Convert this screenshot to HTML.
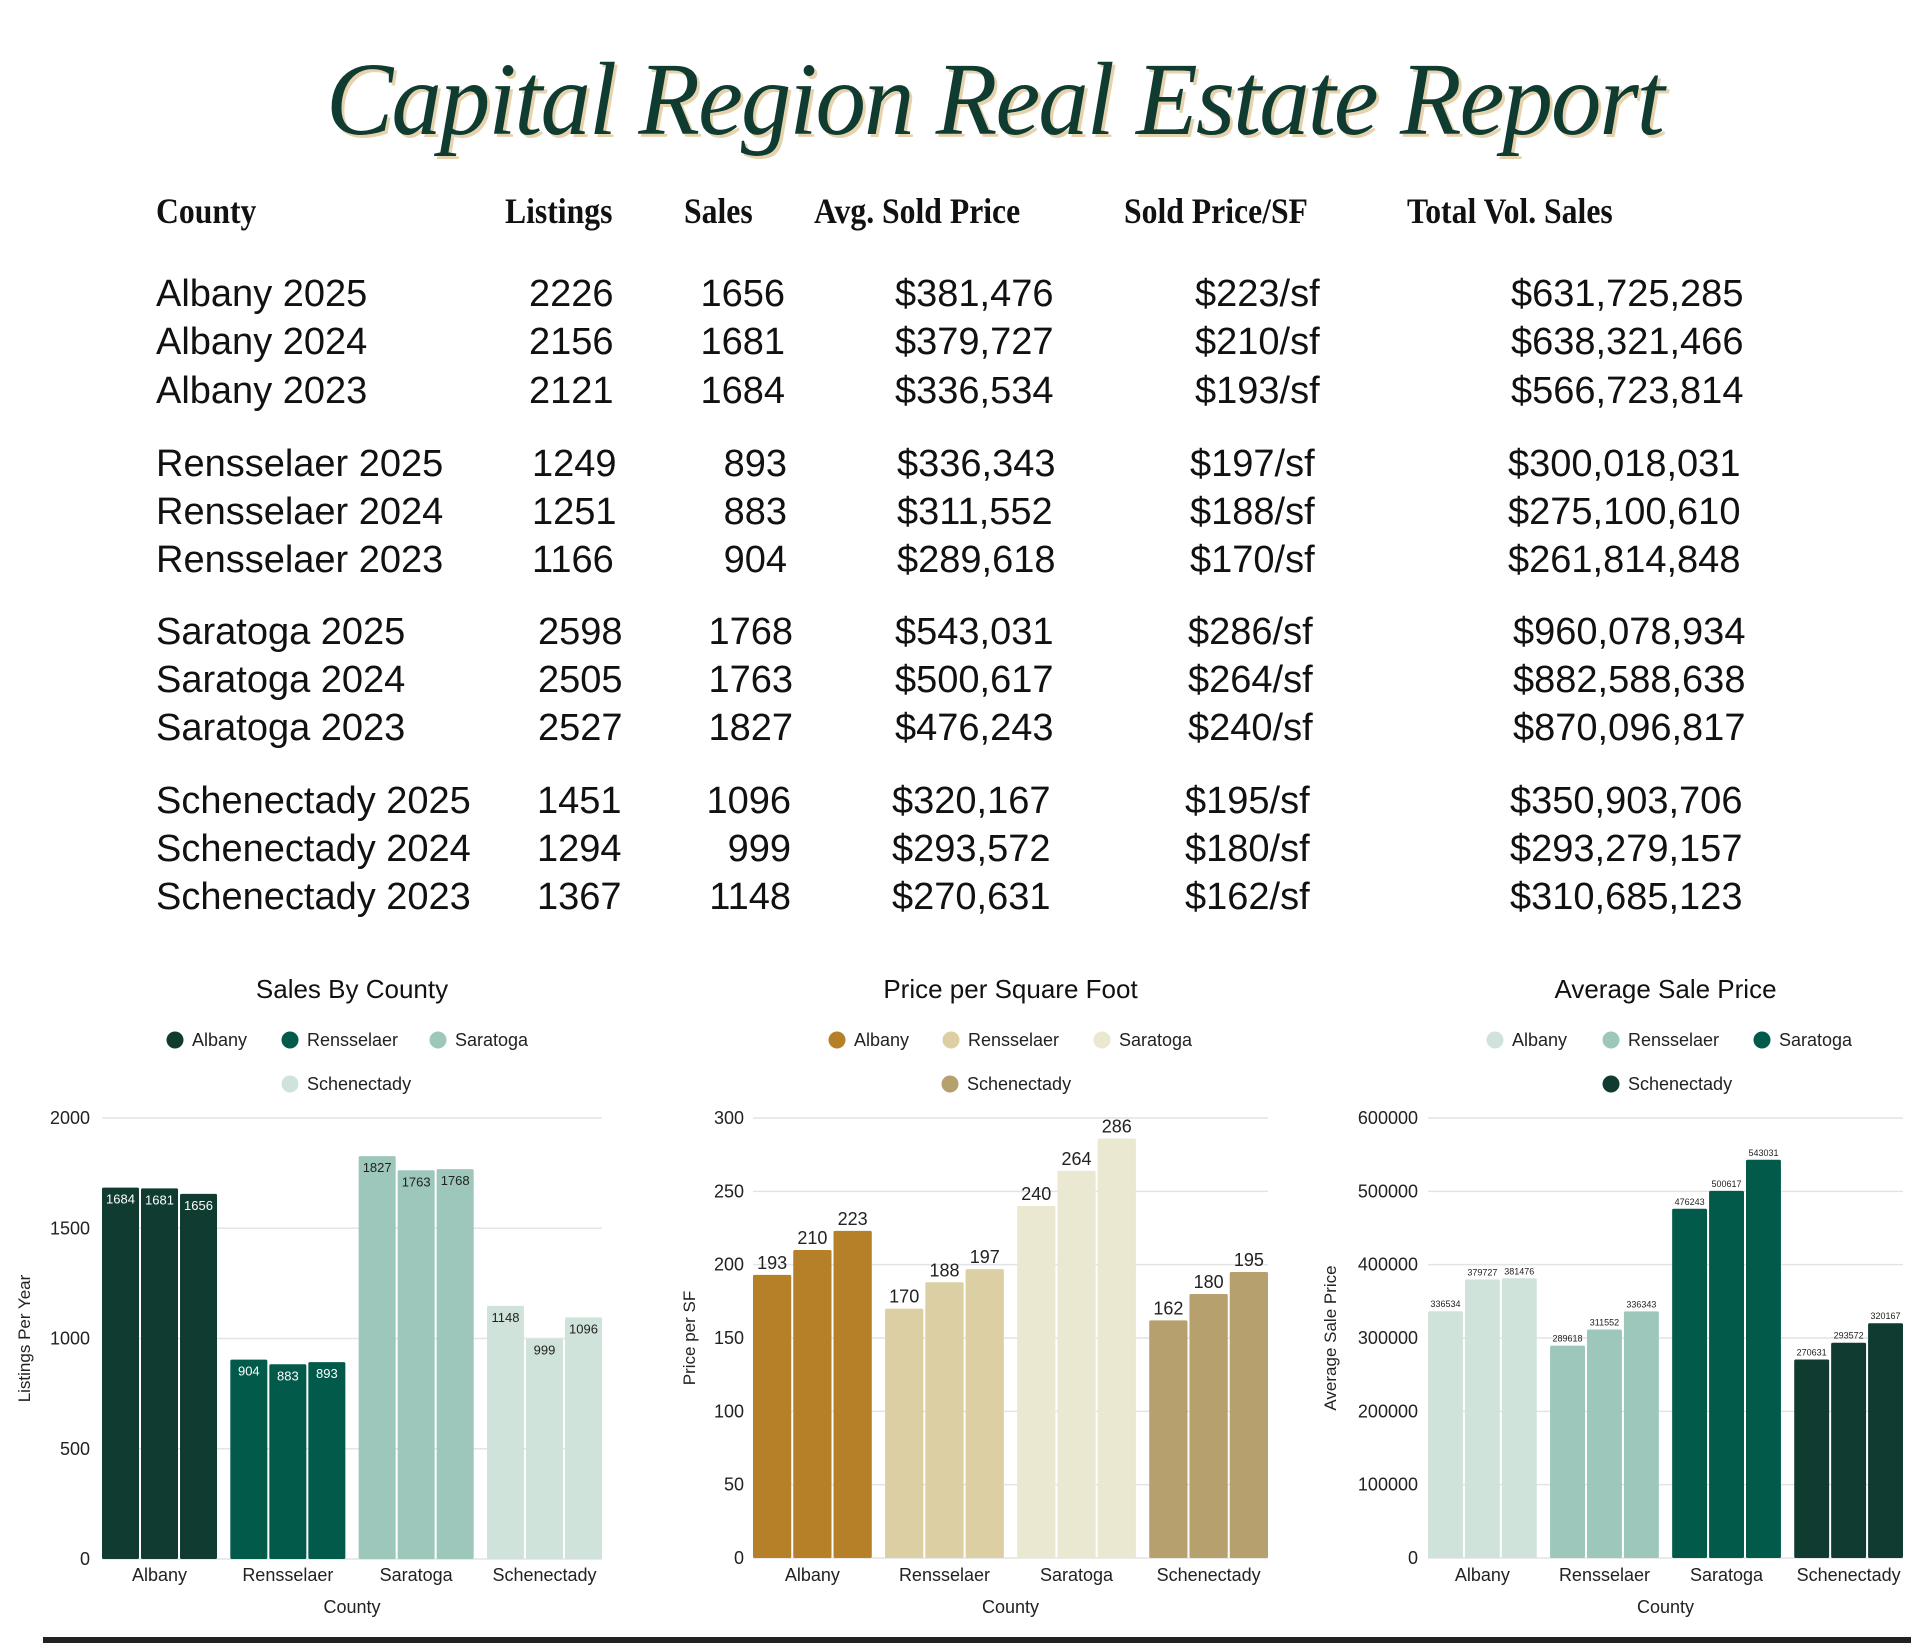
<!DOCTYPE html>
<html><head><meta charset="utf-8">
<style>
html,body{margin:0;padding:0;background:#fff;}
body{width:1920px;height:1643px;position:relative;overflow:hidden;font-family:"Liberation Sans",sans-serif;color:#111;}
.hd{position:absolute;font-family:"Liberation Serif",serif;font-weight:bold;font-size:36px;top:190px;transform:scaleX(0.88);transform-origin:left;white-space:nowrap;}
.row{position:absolute;font-size:38px;white-space:nowrap;}
#title{position:absolute;left:326px;top:40px;white-space:nowrap;font-family:"Liberation Serif",serif;font-style:italic;font-size:104px;color:#0f3b30;text-shadow:3px 3px 0 #e6d3ae;letter-spacing:-2px;transform:scaleX(0.97);transform-origin:left;}
</style></head>
<body>
<div id="title">Capital Region Real Estate Report</div>
<div class="hd" style="left:156px">County</div>
<div class="hd" style="left:505px">Listings</div>
<div class="hd" style="left:684px">Sales</div>
<div class="hd" style="left:814px">Avg. Sold Price</div>
<div class="hd" style="left:1124px">Sold Price/SF</div>
<div class="hd" style="left:1407px">Total Vol. Sales</div>
<div id="table"></div>
<svg id="charts" width="1920" height="1643" style="position:absolute;left:0;top:0"></svg>
<div style="position:absolute;left:43px;top:1637px;width:1868px;height:6px;background:#222"></div>
<script>
const rowsData = [
 ["Albany 2025","2226","1656","$381,476","$223/sf","$631,725,285"],
 ["Albany 2024","2156","1681","$379,727","$210/sf","$638,321,466"],
 ["Albany 2023","2121","1684","$336,534","$193/sf","$566,723,814"],
 ["Rensselaer 2025","1249","893","$336,343","$197/sf","$300,018,031"],
 ["Rensselaer 2024","1251","883","$311,552","$188/sf","$275,100,610"],
 ["Rensselaer 2023","1166","904","$289,618","$170/sf","$261,814,848"],
 ["Saratoga 2025","2598","1768","$543,031","$286/sf","$960,078,934"],
 ["Saratoga 2024","2505","1763","$500,617","$264/sf","$882,588,638"],
 ["Saratoga 2023","2527","1827","$476,243","$240/sf","$870,096,817"],
 ["Schenectady 2025","1451","1096","$320,167","$195/sf","$350,903,706"],
 ["Schenectady 2024","1294","999","$293,572","$180/sf","$293,279,157"],
 ["Schenectady 2023","1367","1148","$270,631","$162/sf","$310,685,123"]
];
const rowTops=[273,321,370,443,491,539,611,659,707,780,828,876];
const blockX=[[529,785,895,1195,1511],[532,787,897,1190,1508],[538,793,895,1188,1513],[537,791,892,1185,1510]];
const tbl=document.getElementById('table');
rowsData.forEach((r,i)=>{
  const b=blockX[Math.floor(i/3)];
  const xs=[156,b[0],null,b[2],b[3],b[4]];
  r.forEach((v,j)=>{
    const d=document.createElement('div');
    d.className='row';
    d.textContent=v;
    d.style.top=rowTops[i]+'px';
    if(j===2){d.style.left=(b[1]-90)+'px';d.style.width='90px';d.style.textAlign='right';}
    else d.style.left=xs[j]+'px';
    
    
    tbl.appendChild(d);
  });
});

const categories=["Albany","Rensselaer","Saratoga","Schenectady"];
const salesValues=[[1684,1681,1656],[904,883,893],[1827,1763,1768],[1148,999,1096]];
const sfValues=[[193,210,223],[170,188,197],[240,264,286],[162,180,195]];
const priceValues=[[336534,379727,381476],[289618,311552,336343],[476243,500617,543031],[270631,293572,320167]];
const salesTicks=[0,500,1000,1500,2000];
const sfTicks=[0,50,100,150,200,250,300];
const priceTicks=[0,100000,200000,300000,400000,500000,600000];

const NS='http://www.w3.org/2000/svg';
const svg=document.getElementById('charts');
function mk(tag,attrs,parent,txt){const e=document.createElementNS(NS,tag);for(const k in attrs)e.setAttribute(k,attrs[k]);if(txt!==undefined)e.textContent=txt;(parent||svg).appendChild(e);return e;}

function chart(o){
  const g=mk('g',{});
  
  
  const max=o.ticks[o.ticks.length-1];
  const y=v=>o.bottom-(v/max)*(o.bottom-o.top);
  const cx=(o.x0+o.x1)/2;
  const t=mk('text',{x:cx,y:998,'font-size':26,'text-anchor':'middle',fill:'#111'},g,o.title);
  
  
  o.legend.forEach((L,i)=>{
    const row=i<3?1040:1084;
    const dx=o.legendX[i];
    const c=mk('circle',{cx:dx,cy:row,r:8.5,fill:o.colors[i]},g);
    
    
    const lt=mk('text',{x:dx+17,y:row+6,'font-size':18,fill:'#222'},g,L);
    
    
  });
  o.ticks.forEach(tv=>{
    const gl=mk('line',{x1:o.x0,x2:o.x1,y1:y(tv),y2:y(tv),stroke:'#e4e4e4','stroke-width':1.5},g);
    
    
    const tl=mk('text',{x:o.tickX,y:y(tv)+6,'font-size':18,'text-anchor':'end',fill:'#222'},g,String(tv));
    
    
  });
  const gap=13.3,gw=(o.x1-o.x0-3*gap)/4,bw=(gw-4)/3;
  categories.forEach((cat,ci)=>{
    const gx=o.x0+ci*(gw+gap);
    o.values[ci].forEach((v,k)=>{
      const bx=gx+k*(bw+2);
      const r=mk('rect',{x:bx,y:y(v),width:bw,height:o.bottom-y(v),fill:o.colors[ci],rx:1.5},g);
      
      
      let ly,col;
      if(o.inside){ly=y(v)+16;col=ci<2?'#fff':'#222';}else{ly=y(v)-o.labGap;col='#222';}
      const vl=mk('text',{x:bx+bw/2,y:ly,'font-size':o.labSize,'text-anchor':'middle',fill:col},g,String(v));
      
      
    });
    const xl=mk('text',{x:gx+gw/2,y:1581,'font-size':18,'text-anchor':'middle',fill:'#222'},g,cat);
    
    
  });
  const xt=mk('text',{x:cx,y:1613,'font-size':18,'text-anchor':'middle',fill:'#222'},g,'County');
  
  
  const ym=(o.top+o.bottom)/2;
  const yt=mk('text',{x:o.yTitleX,y:ym,'font-size':17,'text-anchor':'middle',fill:'#222',transform:`rotate(-90 ${o.yTitleX} ${ym})`},g,o.yTitle);
  
  
}
chart({name:'sales-by-county-chart',title:'Sales By County',x0:102,x1:602,top:1118,bottom:1559,ticks:salesTicks,values:salesValues,
  colors:['#0f3b30','#025a4b','#9dc7bb','#d0e3db'],legend:categories,legendX:[175,290,438,290],tickX:90,yTitle:'Listings Per Year',yTitleX:30,inside:true,labSize:13});
chart({name:'price-per-sf-chart',title:'Price per Square Foot',x0:753,x1:1268,top:1118,bottom:1558,ticks:sfTicks,values:sfValues,
  colors:['#b58027','#dccfa4','#ebe8d1','#b5a06e'],legend:categories,legendX:[837,951,1102,950],tickX:744,yTitle:'Price per SF',yTitleX:695,inside:false,labSize:18,labGap:6});
chart({name:'average-sale-price-chart',title:'Average Sale Price',x0:1428,x1:1903,top:1118,bottom:1558,ticks:priceTicks,values:priceValues,
  colors:['#d0e3db','#9dc7bb','#025a4b','#0f3b30'],legend:categories,legendX:[1495,1611,1762,1611],tickX:1418,yTitle:'Average Sale Price',yTitleX:1336,inside:false,labSize:9,labGap:4});
</script>
</body></html>
